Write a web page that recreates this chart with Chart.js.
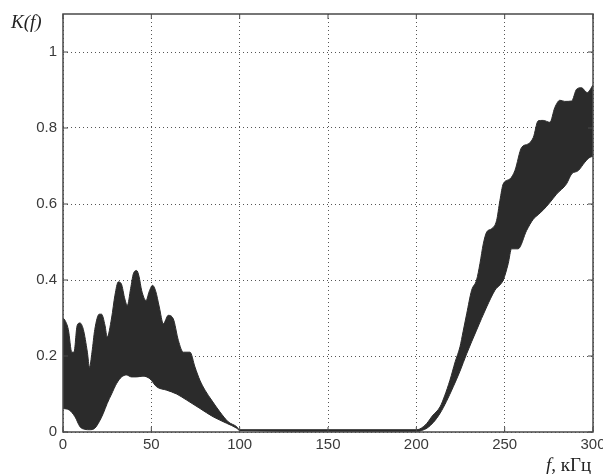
<!DOCTYPE html>
<html>
<head>
<meta charset="utf-8">
<script src="https://cdn.jsdelivr.net/npm/chart.js@4.4.0/dist/chart.umd.min.js"></script>
<style>
  body { margin: 0; background: #fff; }
  #wrap { width: 603px; height: 474px; position: relative; }
</style>
</head>
<body>
<div id="wrap"><canvas id="kChart"></canvas></div>
<script>
// K(f) band: upper and lower envelopes

const xTicks = [0, 50, 100, 150, 200, 250, 300];
const yTicks = [0, 0.2, 0.4, 0.6, 0.8, 1];

const upperF = [0, 1, 3, 5, 6.2, 8, 9.6, 11.5, 13.8, 15, 16.4, 18, 20.5, 21.8, 23.8, 25, 27.5, 29.4, 31.3, 33,
  35, 36.4, 38.3, 39.8, 41.7, 43, 44.5, 47, 48.8, 50.7, 52.5, 54.5, 56.8, 59.6, 62.4, 65.3, 68.1, 71.9,
  74.7, 77.5, 80.4, 84.1, 88.8, 93.5, 98.3, 100, 200, 202, 205.8, 209, 213.4, 216, 219, 222, 224.7, 226.5, 228.5,
  231.3, 234.1, 236, 237.9, 239.8, 242.6, 245.4, 247.3, 249.2, 253, 255.8, 259.6, 263.3, 266.2,
  269, 271.8, 275.6, 278.4, 281.3, 284, 287.9, 290.7, 293.5, 296.7, 300];
const upperK = [0.30, 0.295, 0.27, 0.21, 0.21, 0.28, 0.287, 0.27, 0.21, 0.17, 0.21, 0.27, 0.31, 0.31, 0.28, 0.25, 0.30, 0.36, 0.395, 0.39,
  0.35, 0.333, 0.378, 0.416, 0.425, 0.41, 0.373, 0.346, 0.37, 0.386, 0.37, 0.329, 0.285, 0.307, 0.298, 0.241, 0.21, 0.21,
  0.171, 0.136, 0.11, 0.084, 0.053, 0.027, 0.014, 0.006, 0.006, 0.008, 0.022, 0.042, 0.066, 0.095, 0.136, 0.185, 0.224, 0.265, 0.311,
  0.373, 0.40, 0.443, 0.495, 0.526, 0.535, 0.556, 0.609, 0.653, 0.666, 0.688, 0.749, 0.758, 0.775,
  0.819, 0.82, 0.815, 0.854, 0.873, 0.87, 0.871, 0.902, 0.906, 0.893, 0.913];

const lowerF = [0, 3.5, 6.8, 9.6, 12.4, 15, 18, 20.5, 22.8, 25, 27.5, 30.4, 33.2, 36, 38.7, 41.7, 45.3, 49.2, 53,
  58.7, 64.3, 70, 77.5, 85, 92.6, 98.3, 100, 200, 203, 206, 209.6, 213.4, 217, 220.9, 224.7, 228.5, 234.1, 239.8, 244.5,
  249.2, 252, 253.9, 257.6, 262.4, 266.2, 269, 272, 275.6, 279.4, 285, 287.9, 291.7, 295.4, 298.3, 300];
const lowerK = [0.062, 0.058, 0.04, 0.014, 0.007, 0.006, 0.01, 0.027, 0.049, 0.075, 0.10, 0.128, 0.145, 0.15, 0.145, 0.145, 0.147, 0.14, 0.119,
  0.11, 0.10, 0.084, 0.062, 0.04, 0.023, 0.01, 0.004, 0, 0.004, 0.01, 0.025, 0.049, 0.08, 0.119, 0.16, 0.206, 0.268, 0.329, 0.373,
  0.40, 0.443, 0.482, 0.482, 0.53, 0.56, 0.572, 0.585, 0.604, 0.626, 0.653, 0.679, 0.688, 0.71, 0.723, 0.725];

const BAND = '#2b2b2b';
const FRAME = '#4a4a4a';

const toPts = (xs, ys) => xs.map((x, i) => ({ x: x, y: ys[i] }));

// box round the plot, inward ticks and axis titles
const framePlugin = {
  id: 'frame',
  afterDraw(chart) {
    const { ctx, chartArea: a, scales } = chart;
    ctx.save();
    ctx.strokeStyle = FRAME;
    ctx.lineWidth = 1.5;
    ctx.strokeRect(a.left, a.top, a.right - a.left, a.bottom - a.top);

    ctx.lineWidth = 1;
    ctx.beginPath();
    xTicks.forEach(v => {
      const px = scales.x.getPixelForValue(v);
      ctx.moveTo(px, a.bottom); ctx.lineTo(px, a.bottom - 5);
      ctx.moveTo(px, a.top); ctx.lineTo(px, a.top + 5);
    });
    yTicks.forEach(v => {
      const py = scales.y.getPixelForValue(v);
      ctx.moveTo(a.left, py); ctx.lineTo(a.left + 5, py);
      ctx.moveTo(a.right, py); ctx.lineTo(a.right - 5, py);
    });
    ctx.stroke();

    ctx.fillStyle = '#222';
    ctx.textBaseline = 'middle';
    ctx.textAlign = 'left';
    ctx.font = 'italic 19px "Liberation Serif"';
    ctx.fillText('K(f)', 11, 23);

    ctx.font = 'italic 19px "Liberation Serif"';
    ctx.fillText('f', 546, 466);
    const fw = ctx.measureText('f').width;
    ctx.font = '19px "Liberation Serif"';
    ctx.fillText(', кГц', 546 + fw, 466);
    ctx.restore();
  }
};

const chart = new Chart(document.getElementById('kChart'), {
  type: 'line',
  data: {
    datasets: [
      {
        data: toPts(upperF, upperK),
        borderColor: BAND,
        backgroundColor: BAND,
        borderWidth: 1,
        pointRadius: 0,
        cubicInterpolationMode: 'monotone',
        fill: '+1'
      },
      {
        data: toPts(lowerF, lowerK),
        borderColor: BAND,
        backgroundColor: BAND,
        borderWidth: 1,
        pointRadius: 0,
        cubicInterpolationMode: 'monotone',
        fill: false
      }
    ]
  },
  options: {
    responsive: true,
    maintainAspectRatio: false,
    animation: false,
    layout: { padding: { left: 0, top: 14, right: 10, bottom: 0 } },
    plugins: {
      legend: { display: false },
      tooltip: { enabled: false }
    },
    scales: {
      x: {
        type: 'linear',
        min: 0,
        max: 300,
        afterBuildTicks: s => { s.ticks = xTicks.map(v => ({ value: v })); },
        afterFit: s => { s.height = 42; s.paddingLeft = 0; s.paddingRight = 0; },
        grid: { color: '#555', lineWidth: 1, drawTicks: false },
        border: { display: false, dash: [1, 3] },
        ticks: {
          padding: 4,
          color: '#3a3a3a',
          font: { family: '"Liberation Sans", Arial', size: 15 },
          maxRotation: 0,
          callback: v => String(v)
        }
      },
      y: {
        type: 'linear',
        min: 0,
        max: 1.1,
        afterBuildTicks: s => { s.ticks = yTicks.map(v => ({ value: v })); },
        afterFit: s => { s.width = 63; s.paddingTop = 0; s.paddingBottom = 0; },
        grid: { color: '#555', lineWidth: 1, drawTicks: false },
        border: { display: false, dash: [1, 3] },
        ticks: {
          padding: 6,
          color: '#3a3a3a',
          font: { family: '"Liberation Sans", Arial', size: 15 },
          callback: v => String(+v.toFixed(1))
        }
      }
    }
  },
  plugins: [framePlugin]
});
</script>
</body>
</html>
